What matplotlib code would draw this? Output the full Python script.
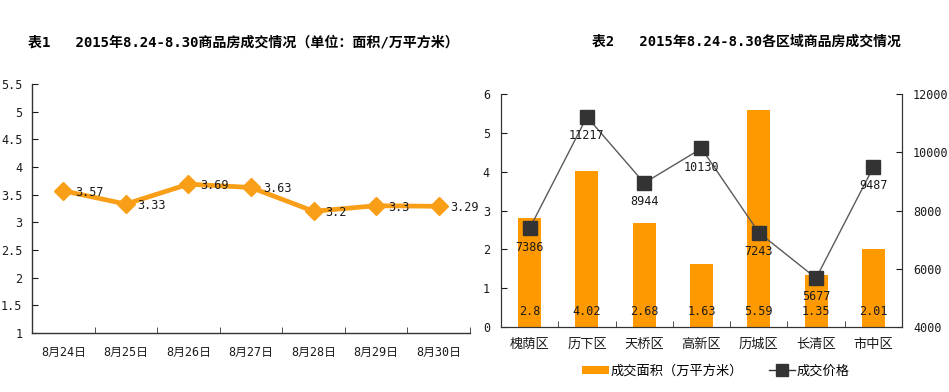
import matplotlib
matplotlib.use("Agg")
import matplotlib.pyplot as plt
from matplotlib.patches import Patch
from matplotlib.lines import Line2D

plt.rcParams['font.family'] = ['DejaVu Sans Mono', 'Noto Sans CJK SC']

# Chart 1 data
days = ['8月24日', '8月25日', '8月26日', '8月27日', '8月28日', '8月29日', '8月30日']
daily_area = [3.57, 3.33, 3.69, 3.63, 3.2, 3.3, 3.29]
daily_labels = ['3.57', '3.33', '3.69', '3.63', '3.2', '3.3', '3.29']

# Chart 2 data
districts = ['槐荫区', '历下区', '天桥区', '高新区', '历城区', '长清区', '市中区']
district_area = [2.8, 4.02, 2.68, 1.63, 5.59, 1.35, 2.01]
district_price = [7386, 11217, 8944, 10130, 7243, 5677, 9487]

title1 = '表1   2015年8.24-8.30商品房成交情况（单位：面积/万平方米）'
title2 = '表2   2015年8.24-8.30各区域商品房成交情况'

ORANGE_LINE = '#F99E17'
ORANGE_BAR = '#FF9900'
DARK = '#333333'
TXT = '#1a1a1a'

W, H = 949, 392
fig = plt.figure(figsize=(W / 100, H / 100), dpi=100)

def fx(px):
    return px / W

def fy(py):
    return 1 - py / H

# ---------- Chart 1 ----------
ax1 = fig.add_axes([fx(32), fy(333), fx(470 - 32), fy(84) - fy(333)])
x1 = list(range(len(days)))
ax1.plot(x1, daily_area, color=ORANGE_LINE, lw=3.4, marker='D', ms=9,
         markerfacecolor=ORANGE_LINE, markeredgecolor=ORANGE_LINE, zorder=3)
for xi, v, lab in zip(x1, daily_area, daily_labels):
    ax1.annotate(lab, (xi, v), xytext=(8.5, -1), textcoords='offset points',
                 ha='left', va='center', fontsize=8.5, color=TXT, zorder=4)
ax1.set_xlim(-0.5, len(days) - 0.5)
ax1.set_ylim(1, 5.5)
ax1.set_yticks([1, 1.5, 2, 2.5, 3, 3.5, 4, 4.5, 5, 5.5])
ax1.set_yticklabels(['1', '1.5', '2', '2.5', '3', '3.5', '4', '4.5', '5', '5.5'])
ax1.set_xticks(x1)
ax1.set_xticklabels(days)
ax1.set_xticks([i + 0.5 for i in range(len(days))], minor=True)
ax1.tick_params(axis='x', which='major', length=0, pad=9, labelsize=8.5, colors=TXT)
ax1.tick_params(axis='x', which='minor', length=4, direction='in', color=DARK)
ax1.tick_params(axis='y', length=4, direction='in', pad=7, labelsize=8.5, colors=TXT)
for s in ['top', 'right']:
    ax1.spines[s].set_visible(False)
for s in ['left', 'bottom']:
    ax1.spines[s].set_color(DARK)
    ax1.spines[s].set_linewidth(1)

fig.text(fx(243), fy(42), title1, ha='center', va='center',
         fontsize=10.1, fontweight='bold', color='black')

# ---------- Chart 2 ----------
ax2 = fig.add_axes([fx(501), fy(327), fx(902 - 501), fy(94) - fy(327)])
x2 = list(range(len(districts)))
ax2.bar(x2, district_area, width=0.4, color=ORANGE_BAR, zorder=2)
for xi, v in zip(x2, district_area):
    ax2.text(xi, 0.4, f'{v:g}', ha='center', va='center', fontsize=8.5, color=TXT, zorder=5)
ax2.set_xlim(-0.5, len(districts) - 0.5)
ax2.set_ylim(0, 6)
ax2.set_yticks(range(0, 7))
ax2.set_xticks(x2)
ax2.set_xticklabels(districts)
ax2.set_xticks([i + 0.5 for i in range(len(districts) - 1)], minor=True)
ax2.tick_params(axis='x', which='major', length=0, pad=8, labelsize=9.5, colors=TXT)
ax2.tick_params(axis='x', which='minor', length=4, direction='in', color=DARK)
ax2.tick_params(axis='y', length=4, direction='in', pad=8, labelsize=8.5, colors=TXT)
ax2.spines['top'].set_visible(False)
for s in ['left', 'bottom', 'right']:
    ax2.spines[s].set_color(DARK)

ax3 = ax2.twinx()
ax3.plot(x2, district_price, color='#5a5a5a', lw=1, marker='s', ms=9.5,
         markerfacecolor=DARK, markeredgecolor=DARK, zorder=3)
for xi, v in zip(x2, district_price):
    ax3.annotate(str(v), (xi, v), xytext=(0, -13.5), textcoords='offset points',
                 ha='center', va='center', fontsize=8.5, color=TXT, zorder=5)
ax3.set_ylim(4000, 12000)
ax3.set_yticks(range(4000, 12001, 2000))
ax3.tick_params(axis='y', length=4, direction='in', pad=8, labelsize=8.5, colors=TXT)
ax3.spines['top'].set_visible(False)
for s in ['left', 'bottom', 'right']:
    ax3.spines[s].set_color(DARK)

fig.text(fx(746), fy(42), title2, ha='center', va='center',
         fontsize=10, fontweight='bold', color='black')

handles = [Patch(facecolor=ORANGE_BAR, edgecolor='none', label='成交面积（万平方米）'),
           Line2D([0], [0], color='#333333', lw=1, marker='s', ms=8,
                  markerfacecolor=DARK, markeredgecolor=DARK, label='成交价格')]
fig.legend(handles=handles, ncol=2, frameon=False, loc='center',
           bbox_to_anchor=(fx(716), fy(371)), fontsize=9.5,
           handlelength=2.0, handleheight=0.5, handletextpad=0.1, columnspacing=2.0)

fig.savefig('out.png', dpi=100)
